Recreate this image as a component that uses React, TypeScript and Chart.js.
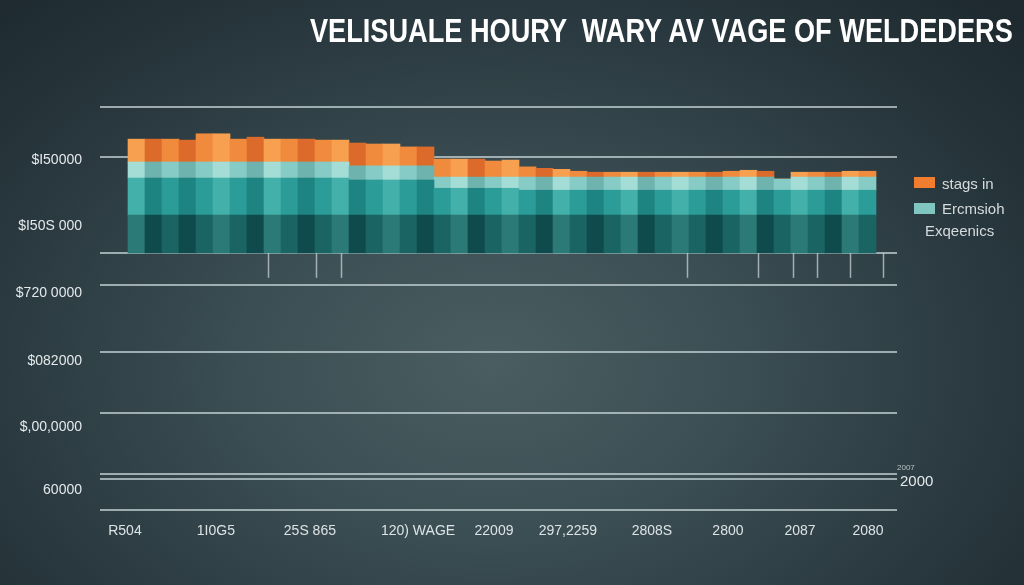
import React, { useEffect, useRef } from "react";
import { Chart, registerables } from "chart.js";

Chart.register(...registerables);

// ---- data ----
const barIndex = [
  0, 1, 2, 3, 4, 5, 6, 7, 8, 9, 10, 11, 12, 13, 14, 15, 16, 17, 18, 19, 20, 21,
  22, 23, 24, 25, 26, 27, 28, 29, 30, 31, 32, 33, 34, 35, 36, 37, 38, 39, 40, 41, 42, 43,
];

const darkBase = [
  7.8, 7.8, 7.8, 7.8, 7.8, 7.8, 7.8, 7.8, 7.8, 7.8, 7.8, 7.8, 7.8, 7.8, 7.8, 7.8, 7.8, 7.8, 7.8, 7.8, 7.8, 7.8,
  7.8, 7.8, 7.8, 7.8, 7.8, 7.8, 7.8, 7.8, 7.8, 7.8, 7.8, 7.8, 7.8, 7.8, 7.8, 7.8, 7.8, 7.8, 7.8, 7.8, 7.8, 7.8,
];

const tealMid = [
  7.6, 7.6, 7.6, 7.6, 7.6, 7.6, 7.6, 7.6, 7.6, 7.6, 7.6, 7.6, 7.6, 7.2, 7.2, 7.2, 7.2, 7.2, 5.5, 5.5, 5.5, 5.5,
  5.5, 5.1, 5.1, 5.1, 5.1, 5.1, 5.1, 5.1, 5.1, 5.1, 5.1, 5.1, 5.1, 5.1, 5.1, 5.1, 5.1, 5.1, 5.1, 5.1, 5.1, 5.1,
];

const lightTeal = [
  3.3, 3.3, 3.3, 3.3, 3.3, 3.3, 3.3, 3.3, 3.3, 3.3, 3.3, 3.3, 3.3, 2.9, 2.9, 2.9, 2.9, 2.9, 2.3, 2.3, 2.3, 2.3,
  2.3, 2.7, 2.7, 2.7, 2.7, 2.7, 2.7, 2.7, 2.7, 2.7, 2.7, 2.7, 2.7, 2.7, 2.7, 2.7, 2.3, 2.7, 2.7, 2.7, 2.7, 2.7,
];

const orangeTop = [
  4.7, 4.7, 4.7, 4.5, 5.8, 5.8, 4.7, 5.1, 4.7, 4.7, 4.7, 4.5, 4.5, 4.7, 4.5, 4.5, 3.9, 3.9, 3.7, 3.7, 3.7, 3.3,
  3.5, 2.1, 1.8, 1.6, 1.2, 1.0, 1.0, 1.0, 1.0, 1.0, 1.0, 1.0, 1.0, 1.2, 1.4, 1.2, 0, 1.0, 1.0, 1.0, 1.2, 1.2,
];

const xLabels = ["R504", "1I0G5", "25S 865", "120) WAGE", "22009", "297,2259", "2808S", "2800", "2087", "2080"];
const xTickPos = [-0.68, 4.67, 10.2, 16.56, 21.03, 25.38, 30.32, 34.79, 39.03, 43.03];

const yLabels = ["60000", "$,00,0000", "$082000", "$720 0000", "$I50S 000", "$I50000"];
const yLabelPos = [0.303, 1.256, 2.255, 3.284, 4.298, 5.297];

const gridPos = [0, 0.469, 0.545, 1.468, 2.391, 3.405, 3.89, 5.343, 6.1];

const dropTickPos = [7.73, 10.56, 12.03, 32.38, 36.56, 38.62, 40.03, 41.97, 43.91];

const legendLabels = ["stags in", "Ercmsioh", "Exqeenics"];
const titleText = "VELISUALE HOURY  WARY AV VAGE OF WELDEDERS";

// ---- styles ----
const shadePattern = [
  2, 1, 0, 1, 0, 2, 0, 1, 2, 0, 1, 0, 2, 1, 0, 2, 0, 1, 0, 2, 1, 0,
  2, 0, 1, 2, 0, 1, 0, 2, 1, 0, 2, 0, 1, 0, 2, 1, 0, 2, 0, 1, 2, 0,
];
const orangeShades = ["#F08A3C", "#DC6A2A", "#F6A050"];
const lightShades = ["#86CBC5", "#6FB3AE", "#A4DCD6"];
const tealShades = ["#2B9C97", "#1E8481", "#44B0AA"];
const darkShades = ["#1A6563", "#0F4B4C", "#2C7A77"];

const FONT = "'Liberation Sans', Arial, sans-serif";

const dropTicksPlugin = {
  id: "dropTicks",
  afterDatasetsDraw(chart: any) {
    const xs = chart.scales.x;
    const yb = chart.scales.yB;
    const ctx = chart.ctx;
    ctx.save();
    ctx.strokeStyle = "rgba(200,210,212,0.75)";
    ctx.lineWidth = 1.5;
    dropTickPos.forEach((v) => {
      const px = Math.round(xs.getPixelForValue(v)) + 0.5;
      ctx.beginPath();
      ctx.moveTo(px, yb.getPixelForValue(0));
      ctx.lineTo(px, yb.getPixelForValue(-5.1));
      ctx.stroke();
    });
    ctx.restore();
  },
};

export default function App() {
  const canvasRef = useRef<HTMLCanvasElement>(null);
  const titleRef = useRef<HTMLDivElement>(null);

  useEffect(() => {
    document.body.style.margin = "0";
    const t = titleRef.current;
    if (t) {
      const w = t.scrollWidth;
      if (w > 0) t.style.transform = `scaleX(${703 / w})`;
    }
    const canvas = canvasRef.current;
    if (!canvas) return;
    const toPts = (arr: number[]) => arr.map((v, i) => ({ x: barIndex[i], y: v }));
    const colorsFor = (shades: string[]) => barIndex.map((i) => shades[shadePattern[i]]);

    const mk = (label: string, arr: number[], shades: string[]) => ({
      label,
      data: toPts(arr),
      backgroundColor: colorsFor(shades),
      borderWidth: 0,
      xAxisID: "x",
      yAxisID: "yB",
      barPercentage: 1,
      categoryPercentage: 1,
    });

    const chart = new Chart(canvas, {
      type: "bar",
      data: {
        datasets: [
          mk("dark", darkBase, darkShades),
          mk("teal", tealMid, tealShades),
          mk("light", lightTeal, lightShades),
          mk("orange", orangeTop, orangeShades),
        ] as any,
      },
      options: {
        responsive: false,
        animation: false,
        events: [],
        layout: { padding: { top: 107, left: 0, right: 0, bottom: 0 } },
        plugins: { legend: { display: false }, tooltip: { enabled: false }, title: { display: false } },
        scales: {
          x: {
            type: "linear",
            position: "bottom",
            min: -2.147,
            max: 44.735,
            offset: false,
            stacked: true,
            grid: { display: false, drawTicks: false },
            border: { display: false },
            ticks: {
              autoSkip: false,
              maxRotation: 0,
              padding: 13,
              color: "#DCE3E5",
              font: { family: FONT, size: 14 },
              callback: (_v: any, i: number) => xLabels[i] ?? "",
            },
            afterBuildTicks: (s: any) => {
              s.ticks = xTickPos.map((v) => ({ value: v }));
            },
            afterFit: (s: any) => {
              s.height = 75;
            },
          },
          y: {
            type: "linear",
            position: "left",
            min: 0,
            max: 6.1,
            grid: { display: false, drawTicks: false },
            border: { display: false },
            ticks: {
              padding: 18,
              color: "#E4E9EB",
              font: { family: FONT, size: 14 },
              callback: (_v: any, i: number) => yLabels[i] ?? "",
            },
            afterBuildTicks: (s: any) => {
              s.ticks = yLabelPos.map((v) => ({ value: v }));
            },
            afterFit: (s: any) => {
              s.width = 100;
            },
          },
          yGrid: {
            type: "linear",
            position: "right",
            min: 0,
            max: 6.1,
            grid: { color: "rgba(186,200,203,0.8)", lineWidth: 2, drawTicks: false },
            border: { display: false },
            ticks: { display: false },
            afterBuildTicks: (s: any) => {
              s.ticks = gridPos.map((v) => ({ value: v }));
            },
            afterFit: (s: any) => {
              s.width = 127;
            },
          },
          yB: {
            type: "linear",
            display: false,
            stacked: true,
            min: -52.8,
            max: 30,
          },
        } as any,
      },
      plugins: [dropTicksPlugin],
    } as any);
    return () => chart.destroy();
  }, []);

  const textColor = "#D5DBDD";

  return (
    <div
      style={{
        position: "fixed",
        left: 0,
        top: 0,
        width: 1024,
        height: 585,
        overflow: "hidden",
        fontFamily: FONT,
        background:
          "radial-gradient(ellipse 70% 85% at 48% 62%, #4A5D61 0%, #3B4E53 35%, #2A3A40 68%, #1E2A2F 100%)",
      }}
    >
      <canvas ref={canvasRef} width={1024} height={585} style={{ position: "absolute", left: 0, top: 0 }} />
      <div
        ref={titleRef}
        style={{
          position: "absolute",
          right: 11,
          top: 14,
          fontSize: 33,
          lineHeight: "33px",
          fontWeight: 700,
          color: "#FFFFFF",
          whiteSpace: "pre",
          transformOrigin: "right center",
        }}
      >
        {titleText}
      </div>
      <div style={{ position: "absolute", left: 914, top: 177, width: 21, height: 11, background: "#F07E2E" }} />
      <div style={{ position: "absolute", left: 942, top: 176, fontSize: 15, lineHeight: "16px", color: textColor }}>
        {legendLabels[0]}
      </div>
      <div style={{ position: "absolute", left: 914, top: 203, width: 21, height: 11, background: "#80C6C0" }} />
      <div style={{ position: "absolute", left: 942, top: 201, fontSize: 15, lineHeight: "16px", color: textColor }}>
        {legendLabels[1]}
      </div>
      <div style={{ position: "absolute", left: 925, top: 223, fontSize: 15, lineHeight: "16px", color: textColor }}>
        {legendLabels[2]}
      </div>
      <div style={{ position: "absolute", left: 897, top: 463, fontSize: 8, lineHeight: "9px", color: "#B8C2C5" }}>
        2007
      </div>
      <div style={{ position: "absolute", left: 900, top: 473, fontSize: 15, lineHeight: "16px", color: "#E4E9EB" }}>
        2000
      </div>
    </div>
  );
}
